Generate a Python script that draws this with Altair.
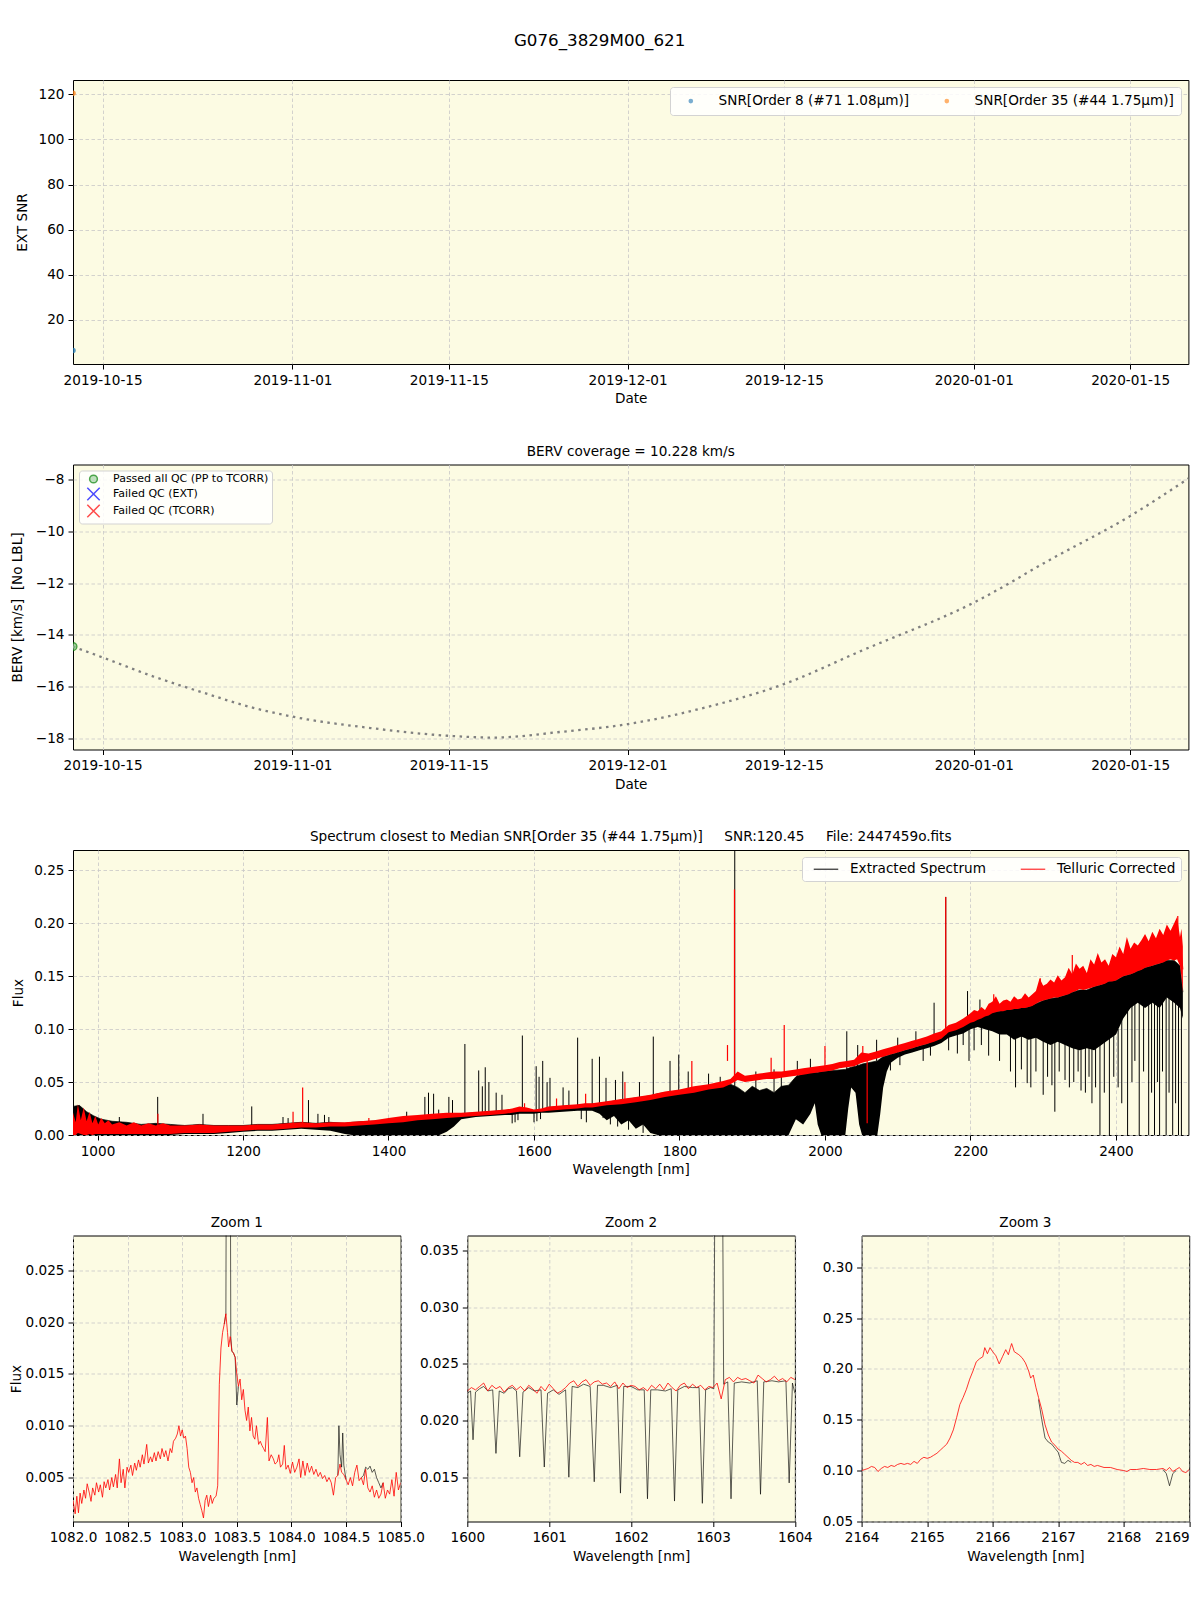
import altair as alt
import pandas as pd

FONT = "DejaVu Sans"
FS = 13.6
BG = "#fcfbe3"

# ---------------- Panel 1 : EXT SNR ----------------
snr_date = ["2019-10-12T08:24:00Z", "2019-10-12T08:24:00Z"]
snr_order = ["SNR[Order 8 (#71 1.08μm)]", "SNR[Order 35 (#44 1.75μm)]"]
snr_value = [6.5, 120.45]
snr_colors = ["#1f77b4", "#ff7f0e"]

# ---------------- Panel 2 : BERV ----------------
berv_curve_date = [
    "2019-10-12T08:24:00Z", "2019-10-15T00:00:00Z", "2019-10-19T12:00:00Z", "2019-10-24T00:00:00Z",
    "2019-10-28T10:00:00Z", "2019-11-01T00:00:00Z", "2019-11-08T00:00:00Z", "2019-11-15T00:00:00Z",
    "2019-11-19T00:00:00Z", "2019-11-25T00:00:00Z", "2019-12-01T00:00:00Z", "2019-12-08T00:00:00Z",
    "2019-12-15T00:00:00Z", "2019-12-22T00:00:00Z", "2020-01-01T00:00:00Z", "2020-01-08T00:00:00Z",
    "2020-01-15T00:00:00Z", "2020-01-20T05:00:00Z",
]
berv_curve_value = [-14.45, -14.87, -15.60, -16.23, -16.81, -17.16, -17.60, -17.90, -17.97, -17.75,
                    -17.45, -16.80, -15.90, -14.60, -12.75, -11.05, -9.40, -7.95]
berv_obs_date = ["2019-10-12T08:24:00Z"]
berv_obs_value = [-14.45]
berv_obs_qc = ["Passed all QC (PP to TCORR)"]
qc_labels = ["Passed all QC (PP to TCORR)", "Failed QC (EXT)", "Failed QC (TCORR)"]
qc_fill = ["#7fbf7f", "blue", "red"]
qc_stroke = ["green", "blue", "red"]
X_PATH = "M-1.6,-1.6L1.6,1.6M-1.6,1.6L1.6,-1.6"
qc_shapes = ["circle", X_PATH, X_PATH]

# ---------------- Panel 3 : full spectrum ----------------
# Telluric-corrected spectrum: lower / upper envelope of the noisy trace
red_wl = [966, 970, 973, 977, 981, 985, 989, 993, 997, 1001, 1005, 1010, 1015, 1020, 1030, 1040, 1050,
          1060, 1070, 1080, 1090, 1100, 1120, 1140, 1160, 1180, 1200, 1220, 1240, 1260, 1280, 1300, 1320,
          1340, 1360, 1380, 1400, 1420, 1440, 1460, 1480, 1500, 1520, 1540, 1560, 1570, 1580, 1590, 1600,
          1610, 1620, 1640, 1660, 1670, 1680, 1700, 1720, 1740, 1760, 1780, 1800, 1820, 1840, 1860, 1870,
          1880, 1890, 1900, 1910, 1920, 1930, 1940, 1950, 1960, 1970, 1980, 1990, 2000, 2010, 2020, 2030,
          2040, 2050, 2060, 2070, 2080, 2090, 2100, 2110, 2120, 2130, 2140, 2150, 2160, 2170, 2180, 2190,
          2200, 2205, 2210, 2215, 2220, 2225, 2230, 2235, 2240, 2245, 2250, 2255, 2260, 2265, 2270, 2275,
          2280, 2285, 2290, 2295, 2300, 2305, 2310, 2315, 2320, 2325, 2330, 2335, 2340, 2345, 2350, 2355,
          2360, 2365, 2370, 2375, 2380, 2385, 2390, 2395, 2400, 2405, 2410, 2415, 2420, 2425, 2430, 2435,
          2440, 2445, 2450, 2455, 2460, 2465, 2470, 2475, 2480, 2484, 2488, 2490, 2492]
red_lo = [0.000, 0.000, 0.002, 0.001, 0.000, 0.000, 0.001, 0.000, 0.001, 0.001, 0.001, 0.001, 0.001,
          0.001, 0.001, 0.001, 0.001, 0.001, 0.001, 0.001, 0.001, 0.001, 0.002, 0.002, 0.002, 0.003,
          0.004, 0.005, 0.005, 0.006, 0.007, 0.007, 0.008, 0.008, 0.009, 0.010, 0.011, 0.012, 0.014,
          0.015, 0.016, 0.017, 0.018, 0.019, 0.020, 0.021, 0.022, 0.022, 0.022, 0.022, 0.023, 0.024,
          0.025, 0.026, 0.026, 0.028, 0.029, 0.031, 0.033, 0.036, 0.038, 0.040, 0.043, 0.045, 0.048,
          0.052, 0.050, 0.051, 0.052, 0.053, 0.053, 0.054, 0.055, 0.056, 0.057, 0.058, 0.059, 0.060,
          0.061, 0.063, 0.064, 0.065, 0.068, 0.070, 0.072, 0.074, 0.076, 0.078, 0.080, 0.082, 0.084,
          0.086, 0.088, 0.091, 0.097, 0.099, 0.102,
          0.106, 0.107, 0.109, 0.110, 0.112, 0.113, 0.115, 0.116, 0.117, 0.117, 0.118, 0.118, 0.119,
          0.119, 0.120, 0.120, 0.121, 0.122, 0.124, 0.126, 0.127, 0.128, 0.129, 0.130, 0.130, 0.131,
          0.132, 0.133, 0.135, 0.136, 0.138, 0.137, 0.138, 0.139, 0.140, 0.141, 0.142, 0.143, 0.145,
          0.145, 0.146, 0.148, 0.150, 0.151, 0.152, 0.153, 0.155, 0.156, 0.158, 0.159, 0.160, 0.161,
          0.162, 0.163, 0.165, 0.166, 0.165, 0.166, 0.160, 0.150, 0.135]
red_hi = [0.022, 0.012, 0.029, 0.014, 0.026, 0.013, 0.022, 0.011, 0.018, 0.010, 0.016, 0.011, 0.014,
          0.010, 0.012, 0.009, 0.012, 0.009, 0.011, 0.009, 0.011, 0.009, 0.009, 0.010, 0.009, 0.009,
          0.009, 0.010, 0.010, 0.011, 0.012, 0.011, 0.012, 0.012, 0.013, 0.014, 0.016, 0.018, 0.019,
          0.020, 0.021, 0.021, 0.022, 0.023, 0.024, 0.025, 0.027, 0.026, 0.024, 0.025, 0.027, 0.028,
          0.029, 0.030, 0.030, 0.032, 0.034, 0.036, 0.038, 0.041, 0.043, 0.046, 0.048, 0.051, 0.053,
          0.060, 0.056, 0.057, 0.058, 0.059, 0.060, 0.060, 0.061, 0.062, 0.063, 0.064, 0.065, 0.066,
          0.067, 0.069, 0.070, 0.071, 0.078, 0.077, 0.079, 0.081, 0.083, 0.085, 0.087, 0.089, 0.091,
          0.093, 0.096, 0.098, 0.104, 0.106, 0.110,
          0.115, 0.118, 0.117, 0.121, 0.118, 0.124, 0.126, 0.131, 0.124, 0.127, 0.128, 0.126, 0.131,
          0.128, 0.129, 0.134, 0.130, 0.133, 0.136, 0.148, 0.141, 0.143, 0.147, 0.144, 0.151, 0.146,
          0.149, 0.158, 0.152, 0.162, 0.157, 0.160, 0.153, 0.166, 0.161, 0.172, 0.163, 0.166, 0.160,
          0.171, 0.168, 0.178, 0.171, 0.187, 0.176, 0.182, 0.179, 0.184, 0.190, 0.183, 0.192, 0.186,
          0.195, 0.189, 0.199, 0.193, 0.200, 0.206, 0.187, 0.195, 0.178]

# Extracted spectrum: lower / upper envelope of the dense trace
black_wl = ([966, 975, 985, 995, 1005, 1020, 1040, 1060, 1080, 1100]
            + [1120, 1140, 1160, 1180, 1200, 1220, 1240, 1260, 1280, 1300, 1320, 1340]
            + [1350, 1400, 1440, 1470, 1480, 1490, 1500, 1520, 1540, 1560, 1570, 1580, 1590, 1600,
               1610, 1620, 1640, 1660, 1670, 1680]
            + [1690, 1700, 1710, 1720, 1730, 1740, 1750, 1760, 1770, 1800, 1840, 1870, 1880, 1890,
               1900, 1910, 1920, 1930, 1940, 1950]
            + [1960, 1970, 1980, 1986, 1990, 1995, 2028, 2032, 2036, 2042, 2047, 2051, 2072, 2076,
               2080, 2085, 2090, 2100]
            + [2110, 2120, 2130, 2140, 2150, 2160, 2170, 2180, 2190, 2200, 2210, 2220, 2230, 2240,
               2250, 2260, 2270, 2280, 2290, 2300, 2310, 2320, 2330, 2340, 2350, 2360, 2370, 2380,
               2390, 2400, 2410, 2420, 2430, 2440, 2450, 2460, 2470, 2480, 2488, 2492])
black_lo = ([0.000, 0.000, 0.000, 0.000, 0.000, 0.000, 0.000, 0.000, 0.000, 0.000]
            + [0.001, 0.001, 0.001, 0.002, 0.003, 0.004, 0.004, 0.005, 0.006, 0.005, 0.004, 0.001]
            + [0.000, 0.000, 0.000, 0.000, 0.003, 0.008, 0.015, 0.017, 0.018, 0.019, 0.019, 0.020,
               0.020, 0.020, 0.021, 0.021, 0.022, 0.023, 0.023, 0.023]
            + [0.020, 0.014, 0.018, 0.010, 0.014, 0.006, 0.010, 0.002, 0.000, 0.000, 0.000, 0.000,
               0.000, 0.000, 0.000, 0.000, 0.000, 0.000, 0.000, 0.000]
            + [0.015, 0.010, 0.020, 0.030, 0.010, 0.000, 0.000, 0.025, 0.045, 0.040, 0.010, 0.000,
               0.000, 0.020, 0.045, 0.060, 0.068, 0.073]
            + [0.076, 0.078, 0.080, 0.082, 0.084, 0.087, 0.092, 0.094, 0.096, 0.100, 0.102, 0.100,
               0.098, 0.095, 0.095, 0.090, 0.093, 0.090, 0.092, 0.088, 0.085, 0.088, 0.085, 0.082,
               0.080, 0.082, 0.080, 0.085, 0.090, 0.095, 0.110, 0.120, 0.125, 0.120, 0.125, 0.120,
               0.130, 0.125, 0.120, 0.110])
black_hi = ([0.027, 0.028, 0.022, 0.018, 0.015, 0.013, 0.012, 0.010, 0.011, 0.010]
            + [0.009, 0.010, 0.009, 0.009, 0.009, 0.010, 0.010, 0.011, 0.012, 0.011, 0.012, 0.011]
            + [0.012, 0.014, 0.017, 0.018, 0.019, 0.019, 0.020, 0.021, 0.022, 0.023, 0.023, 0.025,
               0.025, 0.023, 0.024, 0.026, 0.027, 0.028, 0.029, 0.029]
            + [0.030, 0.031, 0.032, 0.033, 0.034, 0.035, 0.036, 0.037, 0.039, 0.042, 0.046, 0.048,
               0.045, 0.040, 0.046, 0.042, 0.044, 0.040, 0.046, 0.047]
            + [0.055, 0.058, 0.059, 0.059, 0.059, 0.060, 0.062, 0.063, 0.064, 0.065, 0.066, 0.067,
               0.070, 0.072, 0.074, 0.075, 0.076, 0.078]
            + [0.080, 0.082, 0.084, 0.086, 0.089, 0.092, 0.098, 0.101, 0.104, 0.108, 0.111, 0.114,
               0.116, 0.117, 0.118, 0.119, 0.120, 0.121, 0.124, 0.127, 0.129, 0.130, 0.132, 0.135,
               0.137, 0.137, 0.140, 0.142, 0.145, 0.146, 0.150, 0.152, 0.155, 0.158, 0.160, 0.162,
               0.165, 0.165, 0.160, 0.135])

# narrow features of the extracted spectrum (emission spikes and telluric absorption lines)
black_line_wl = [966.5, 1030, 1082.7, 1145, 1212, 1255, 1262, 1290, 1303, 1312, 1318, 1425, 1450, 1455,
                 1462, 1469, 1483, 1488, 1505, 1524, 1529, 1533, 1538, 1548, 1556, 1584, 1603, 1607,
                 1612, 1618, 1622, 1640, 1648, 1660, 1680, 1690, 1699, 1712, 1722, 1745, 1764, 1787,
                 1799, 1812, 1840, 1856, 1876, 1905, 1930, 1940, 1962, 1980, 2030, 2045, 2071, 2100,
                 2125, 2150, 2166, 2196, 2213,
                 1570, 1574, 1578, 1600, 1604, 1609, 1665, 1672, 1695, 1705, 1715, 1730, 1750, 2090,
                 2103, 2135, 2145, 2170, 2182, 2190,
                 2198, 2205, 2215, 2225, 2240, 2255, 2262, 2270, 2278, 2283, 2290, 2300, 2306, 2312,
                 2316, 2322, 2330, 2336, 2342, 2348, 2352, 2358, 2363, 2367, 2372, 2378, 2384, 2391,
                 2397, 2403, 2408, 2416, 2422, 2426, 2432, 2438, 2445, 2449, 2453, 2457, 2460, 2464,
                 2469, 2473, 2478, 2482, 2486, 2490]
black_line_lo = [0.0, 0.004, 0.004, 0.003, 0.005, 0.006, 0.006, 0.007, 0.007, 0.007, 0.007, 0.012, 0.014,
                 0.014, 0.015, 0.015, 0.016, 0.016, 0.018, 0.019, 0.019, 0.019, 0.020, 0.020, 0.021,
                 0.022, 0.022, 0.022, 0.023, 0.023, 0.024, 0.025, 0.025, 0.026, 0.027, 0.028, 0.029,
                 0.030, 0.031, 0.032, 0.034, 0.036, 0.038, 0.040, 0.043, 0.045, 0.0, 0.040, 0.040,
                 0.040, 0.050, 0.055, 0.060, 0.060, 0.070, 0.075, 0.080, 0.085, 0.090, 0.100, 0.105,
                 0.011, 0.012, 0.014, 0.012, 0.013, 0.015,
                 0.015, 0.012, 0.016, 0.010, 0.008, 0.005, 0.002, 0.061, 0.066, 0.070, 0.075, 0.080,
                 0.077, 0.085, 0.070, 0.080, 0.085, 0.075, 0.070, 0.060, 0.045, 0.062, 0.049, 0.045,
                 0.060, 0.038, 0.055, 0.047, 0.022, 0.060, 0.052, 0.045, 0.050, 0.060, 0.042, 0.040,
                 0.055, 0.030, 0.045, 0.000, 0.040, 0.000, 0.055, 0.045, 0.030, 0.000, 0.050, 0.070,
                 0.000, 0.060, 0.000, 0.040, 0.000, 0.050, 0.000, 0.060, 0.000, 0.040, 0.000, 0.030,
                 0.000, 0.000]
black_line_hi = [0.042, 0.017, 0.036, 0.020, 0.027, 0.017, 0.016, 0.033, 0.020, 0.019, 0.017, 0.022, 0.036,
                 0.040, 0.039, 0.024, 0.036, 0.033, 0.086, 0.061, 0.046, 0.064, 0.050, 0.040, 0.038,
                 0.094, 0.065, 0.055, 0.070, 0.050, 0.054, 0.045, 0.042, 0.092, 0.072, 0.074, 0.054,
                 0.052, 0.060, 0.050, 0.093, 0.070, 0.076, 0.060, 0.058, 0.055, 0.300, 0.060, 0.062,
                 0.058, 0.070, 0.072, 0.098, 0.085, 0.090, 0.092, 0.098, 0.125, 0.225, 0.136, 0.128,
                 0.021, 0.021, 0.021, 0.022, 0.022, 0.022,
                 0.027, 0.028, 0.030, 0.030, 0.031, 0.032, 0.034, 0.076, 0.078, 0.085, 0.087, 0.095,
                 0.097, 0.100, 0.102, 0.104, 0.105, 0.102, 0.100, 0.100, 0.095, 0.095, 0.095, 0.095,
                 0.095, 0.092, 0.090, 0.090, 0.090, 0.090, 0.088, 0.088, 0.085, 0.085, 0.085, 0.085,
                 0.085, 0.085, 0.085, 0.090, 0.090, 0.095, 0.095, 0.100, 0.110, 0.125, 0.125, 0.125,
                 0.125, 0.125, 0.125, 0.125, 0.125, 0.125, 0.125, 0.125, 0.130, 0.130, 0.130, 0.130,
                 0.125, 0.120]

red_line_wl = [1083, 1268.8, 1282, 1373, 1587, 1631, 1671, 1725, 1817, 1866, 1875.6, 1926, 1944, 2000,
               2052, 2058, 2166, 2232, 2296, 2340, 2485]
red_line_lo = [0.008, 0.008, 0.009, 0.011, 0.024, 0.025, 0.027, 0.031, 0.042, 0.070, 0.050, 0.056, 0.057,
               0.063, 0.070, 0.011, 0.095, 0.120, 0.132, 0.150, 0.180]
red_line_hi = [0.020, 0.022, 0.045, 0.016, 0.030, 0.0345, 0.039, 0.050, 0.070, 0.085, 0.232, 0.073, 0.104,
               0.084, 0.084, 0.070, 0.225, 0.133, 0.148, 0.170, 0.207]

series_names = ["Extracted Spectrum", "Telluric Corrected"]

# ---------------- Zoom 1 (He I 1083 nm) ----------------
z1_wl = [1082.000, 1082.020, 1082.035, 1082.050, 1082.065, 1082.080, 1082.100, 1082.115, 1082.130, 1082.150,
         1082.165, 1082.180, 1082.200, 1082.215, 1082.235, 1082.250, 1082.270, 1082.285, 1082.300, 1082.320,
         1082.335, 1082.355, 1082.370, 1082.390, 1082.405, 1082.425, 1082.440, 1082.460, 1082.475, 1082.495,
         1082.510, 1082.530, 1082.545, 1082.565, 1082.580, 1082.600, 1082.615, 1082.635, 1082.650, 1082.675,
         1082.690, 1082.710, 1082.725, 1082.745, 1082.760, 1082.780, 1082.800, 1082.815, 1082.835, 1082.850,
         1082.870, 1082.890, 1082.905, 1082.920, 1082.940, 1082.955, 1082.970, 1082.985, 1083.000, 1083.015,
         1083.030, 1083.045, 1083.060, 1083.075, 1083.090, 1083.105, 1083.120, 1083.135, 1083.150, 1083.165,
         1083.180, 1083.195, 1083.210, 1083.225, 1083.240, 1083.260, 1083.275, 1083.290, 1083.310, 1083.325,
         1083.340, 1083.355, 1083.370, 1083.385, 1083.400, 1083.415, 1083.425, 1083.440, 1083.455, 1083.470,
         1083.485, 1083.500, 1083.515, 1083.530, 1083.545, 1083.560, 1083.575, 1083.590, 1083.605, 1083.620,
         1083.635, 1083.650, 1083.665, 1083.680, 1083.700, 1083.715, 1083.730, 1083.745, 1083.760, 1083.780,
         1083.795, 1083.815, 1083.835, 1083.850, 1083.870, 1083.885, 1083.900, 1083.920, 1083.935, 1083.950,
         1083.970, 1083.990, 1084.010, 1084.030, 1084.050, 1084.070, 1084.085, 1084.105, 1084.125, 1084.145,
         1084.165, 1084.185, 1084.205, 1084.225, 1084.245, 1084.265, 1084.285, 1084.305, 1084.325, 1084.345,
         1084.365, 1084.385, 1084.405, 1084.425, 1084.445, 1084.460, 1084.480, 1084.500, 1084.520, 1084.540,
         1084.560, 1084.580, 1084.600, 1084.620, 1084.640, 1084.660, 1084.680, 1084.700, 1084.720, 1084.740,
         1084.760, 1084.780, 1084.800, 1084.820, 1084.840, 1084.860, 1084.880, 1084.900, 1084.920, 1084.940,
         1084.960, 1084.980, 1085.000]
z1_red = [0.0028, 0.0015, 0.0032, 0.0016, 0.0035, 0.0025, 0.0038, 0.0030, 0.0044, 0.0035,
          0.0027, 0.0040, 0.0033, 0.0045, 0.0036, 0.0043, 0.0031, 0.0046, 0.0040, 0.0048,
          0.0038, 0.0050, 0.0041, 0.0053, 0.0040, 0.0068, 0.0045, 0.0058, 0.0040, 0.0060,
          0.0055, 0.0062, 0.0052, 0.0064, 0.0057, 0.0067, 0.0060, 0.0072, 0.0063, 0.0082,
          0.0064, 0.0070, 0.0065, 0.0074, 0.0066, 0.0075, 0.0068, 0.0078, 0.0070, 0.0076,
          0.0066, 0.0078, 0.0074, 0.0085, 0.0088, 0.0092, 0.0100, 0.0090, 0.0096, 0.0088,
          0.0090, 0.0078, 0.0060, 0.0055, 0.0045, 0.0050, 0.0036, 0.0040, 0.0030, 0.0024,
          0.0018, 0.0011, 0.0028, 0.0033, 0.0022, 0.0033, 0.0025, 0.0030, 0.0032, 0.0042,
          0.0140, 0.0175, 0.0190, 0.0198, 0.0208, 0.0190, 0.0176, 0.0186, 0.0172, 0.0170,
          0.0166, 0.0150, 0.0138, 0.0145, 0.0125, 0.0135, 0.0115, 0.0105, 0.0118, 0.0095,
          0.0108, 0.0090, 0.0087, 0.0100, 0.0082, 0.0085, 0.0081, 0.0078, 0.0075, 0.0108,
          0.0066, 0.0072, 0.0068, 0.0063, 0.0065, 0.0072, 0.0060, 0.0063, 0.0081, 0.0058,
          0.0062, 0.0054, 0.0065, 0.0055, 0.0060, 0.0068, 0.0050, 0.0066, 0.0052, 0.0064,
          0.0055, 0.0061, 0.0053, 0.0058, 0.0051, 0.0055, 0.0049, 0.0052, 0.0046, 0.0050,
          0.0045, 0.0033, 0.0050, 0.0052, 0.0063, 0.0055, 0.0053, 0.0048, 0.0043, 0.0050,
          0.0042, 0.0055, 0.0062, 0.0047, 0.0050, 0.0043, 0.0058, 0.0040, 0.0036, 0.0042,
          0.0031, 0.0038, 0.0030, 0.0034, 0.0045, 0.0030, 0.0038, 0.0034, 0.0048, 0.0032,
          0.0055, 0.0038, 0.0045]
# visible parts of the extracted spectrum where it departs from the corrected one
z1_black_wl = [1083.385, 1083.400, 1083.405, 1083.440, 1083.445, 1083.455, 1083.470, 1083.485, 1083.500, 1083.515,
               1084.425, 1084.435, 1084.445, 1084.460, 1084.470, 1084.480, 1084.500,
               1084.640, 1084.660, 1084.680, 1084.700, 1084.720, 1084.740, 1084.760, 1084.780, 1084.800,
               1084.820, 1084.840]
z1_black = [0.0198, 0.0208, 0.0400, 0.0400, 0.0186, 0.0172, 0.0170, 0.0166, 0.0120, 0.0138,
            0.0052, 0.0100, 0.0072, 0.0060, 0.0093, 0.0062, 0.0048,
            0.0050, 0.0052, 0.0060, 0.0058, 0.0061, 0.0055, 0.0058, 0.0050, 0.0045, 0.0040, 0.0045]
z1_black_seg = [1] * 10 + [2] * 7 + [3] * 11

# ---------------- Zoom 2 (1600-1604 nm) ----------------
z2_red_wl = [1600.00, 1600.05, 1600.10, 1600.15, 1600.20, 1600.25, 1600.30, 1600.35, 1600.40, 1600.45,
             1600.50, 1600.55, 1600.60, 1600.65, 1600.70, 1600.75, 1600.80, 1600.85, 1600.90, 1600.95,
             1601.00, 1601.05, 1601.10, 1601.15, 1601.20, 1601.25, 1601.30, 1601.35, 1601.40, 1601.45,
             1601.50, 1601.55, 1601.60, 1601.65, 1601.70, 1601.75, 1601.80, 1601.85, 1601.90, 1601.95,
             1602.00, 1602.05, 1602.10, 1602.15, 1602.20, 1602.25, 1602.30, 1602.35, 1602.40, 1602.45,
             1602.50, 1602.55, 1602.60, 1602.65, 1602.70, 1602.75, 1602.80, 1602.85, 1602.90, 1602.95,
             1603.00, 1603.05, 1603.10, 1603.15, 1603.20, 1603.25, 1603.30, 1603.35, 1603.40, 1603.45,
             1603.50, 1603.55, 1603.60, 1603.65, 1603.70, 1603.75, 1603.80, 1603.85, 1603.90, 1603.95,
             1604.00]
z2_red = [0.0226, 0.0229, 0.0227, 0.0230, 0.0233, 0.0226, 0.0231, 0.0228, 0.0230, 0.0225,
          0.0229, 0.0231, 0.0227, 0.0230, 0.0226, 0.0231, 0.0228, 0.0224, 0.0230, 0.0226,
          0.0232, 0.0228, 0.0224, 0.0226, 0.0229, 0.0233, 0.0235, 0.0230, 0.0234, 0.0236,
          0.0231, 0.0234, 0.0235, 0.0232, 0.0233, 0.0230, 0.0234, 0.0228, 0.0233, 0.0229,
          0.0231, 0.0230, 0.0227, 0.0229, 0.0226, 0.0231, 0.0228, 0.0232, 0.0227, 0.0233,
          0.0229, 0.0226, 0.0231, 0.0233, 0.0228, 0.0232, 0.0229, 0.0231, 0.0227, 0.0230,
          0.0229, 0.0233, 0.0219, 0.0236, 0.0238, 0.0234, 0.0238, 0.0236, 0.0237, 0.0235,
          0.0233, 0.0240, 0.0237, 0.0234, 0.0236, 0.0239, 0.0235, 0.0237, 0.0234, 0.0238,
          0.0236]
z2_black_wl = [1600.00, 1600.04, 1600.07, 1600.10, 1600.15, 1600.20, 1600.25, 1600.31, 1600.35, 1600.39,
               1600.45, 1600.50, 1600.55, 1600.60, 1600.64, 1600.68, 1600.75, 1600.82, 1600.90, 1600.94,
               1600.98, 1601.05, 1601.12, 1601.20, 1601.24, 1601.28, 1601.35, 1601.42, 1601.50, 1601.55,
               1601.59, 1601.66, 1601.75, 1601.83, 1601.87, 1601.91, 1602.00, 1602.08, 1602.16, 1602.20,
               1602.24, 1602.32, 1602.42, 1602.49, 1602.53, 1602.57, 1602.65, 1602.75, 1602.83, 1602.87,
               1602.91, 1602.97, 1603.01, 1603.03, 1603.11, 1603.13, 1603.18, 1603.22, 1603.26, 1603.35,
               1603.45, 1603.54, 1603.58, 1603.62, 1603.72, 1603.80, 1603.89, 1603.93, 1603.97, 1604.00]
z2_black = [0.0224, 0.0226, 0.0183, 0.0225, 0.0228, 0.0230, 0.0226, 0.0227, 0.0171, 0.0226,
            0.0224, 0.0228, 0.0229, 0.0226, 0.0168, 0.0225, 0.0229, 0.0226, 0.0227, 0.0159,
            0.0224, 0.0227, 0.0223, 0.0227, 0.0150, 0.0230, 0.0229, 0.0232, 0.0230, 0.0146,
            0.0231, 0.0231, 0.0229, 0.0231, 0.0136, 0.0230, 0.0230, 0.0227, 0.0227, 0.0131,
            0.0227, 0.0227, 0.0226, 0.0228, 0.0129, 0.0227, 0.0230, 0.0229, 0.0229, 0.0127,
            0.0227, 0.0229, 0.0228, 0.0500, 0.0500, 0.0232, 0.0234, 0.0131, 0.0233, 0.0234,
            0.0233, 0.0235, 0.0135, 0.0234, 0.0235, 0.0234, 0.0235, 0.0145, 0.0233, 0.0224]

# ---------------- Zoom 3 (Br gamma) ----------------
z3_wl = [2164.00, 2164.05, 2164.10, 2164.15, 2164.20, 2164.25, 2164.30, 2164.35, 2164.40, 2164.45,
         2164.50, 2164.55, 2164.60, 2164.65, 2164.70, 2164.75, 2164.80, 2164.85, 2164.90, 2164.95,
         2165.00, 2165.05, 2165.10, 2165.15, 2165.20, 2165.25, 2165.30, 2165.35, 2165.40, 2165.45,
         2165.50, 2165.55, 2165.60, 2165.65, 2165.70, 2165.75, 2165.80, 2165.85, 2165.88, 2165.92,
         2165.96, 2166.00, 2166.05, 2166.10, 2166.15, 2166.20, 2166.24, 2166.27, 2166.29, 2166.33,
         2166.40, 2166.45, 2166.50, 2166.55, 2166.58, 2166.62, 2166.66, 2166.70, 2166.75, 2166.80,
         2166.85, 2166.90, 2166.95, 2167.00, 2167.05, 2167.10, 2167.15, 2167.20, 2167.25, 2167.30,
         2167.35, 2167.40, 2167.45, 2167.50, 2167.55, 2167.60, 2167.70, 2167.80, 2167.90, 2168.00,
         2168.05, 2168.10, 2168.20, 2168.30, 2168.40, 2168.50, 2168.60, 2168.65, 2168.70, 2168.75,
         2168.80, 2168.85, 2168.90, 2168.95, 2169.00]
z3_red = [0.100, 0.101, 0.102, 0.104, 0.103, 0.099, 0.102, 0.104, 0.103, 0.105,
          0.104, 0.106, 0.107, 0.106, 0.107, 0.106, 0.109, 0.107, 0.111, 0.113,
          0.112, 0.113, 0.115, 0.117, 0.120, 0.123, 0.126, 0.132, 0.140, 0.152,
          0.165, 0.172, 0.180, 0.190, 0.198, 0.207, 0.210, 0.212, 0.221, 0.215,
          0.221, 0.217, 0.213, 0.205, 0.212, 0.219, 0.214, 0.221, 0.225, 0.217,
          0.214, 0.211, 0.206, 0.198, 0.191, 0.194, 0.182, 0.172, 0.160, 0.145,
          0.135, 0.128, 0.125, 0.121, 0.119, 0.116, 0.113, 0.110, 0.108, 0.108,
          0.106, 0.108, 0.105, 0.106, 0.104, 0.105, 0.103, 0.103, 0.101, 0.100,
          0.099, 0.101, 0.101, 0.102, 0.101, 0.101, 0.102, 0.100, 0.103, 0.099,
          0.101, 0.103, 0.099, 0.098, 0.101]
z3_black_wl = [2166.70, 2166.75, 2166.80, 2166.85, 2166.90, 2166.95, 2167.00, 2167.05, 2167.10, 2167.15,
               2167.20, 2168.60, 2168.65, 2168.70, 2168.75, 2168.80]
z3_black = [0.170, 0.150, 0.132, 0.128, 0.126, 0.122, 0.118, 0.108, 0.107, 0.110,
            0.108, 0.101, 0.097, 0.085, 0.097, 0.100]
z3_black_seg = [1] * 11 + [2] * 5


# ================= build charts =================
def dt(y, m, d, h=0, mi=0):
    return alt.DateTime(year=y, month=m, date=d, hours=h, minutes=mi, utc=True)


date_scale = alt.Scale(type="utc", domain=[dt(2019, 10, 12, 8, 24), dt(2020, 1, 20, 5, 0)])
date_axis = alt.Axis(values=[dt(2019, 10, 15), dt(2019, 11, 1), dt(2019, 11, 15), dt(2019, 12, 1),
                             dt(2019, 12, 15), dt(2020, 1, 1), dt(2020, 1, 15)],
                     labelExpr="utcFormat(datum.value, '%Y-%m-%d')", title="Date")

W = 1115.4
ZW = 327.6

legend_box = dict(fillColor="rgba(255,255,255,0.85)", strokeColor="#d3d3d3", cornerRadius=3)

# Panel 1
snr_df = pd.DataFrame({"date": snr_date, "order": snr_order, "snr": snr_value})
p1 = alt.Chart(snr_df).mark_circle(size=30, opacity=0.75, clip=True).encode(
    x=alt.X("date:T", scale=date_scale, axis=date_axis),
    y=alt.Y("snr:Q", scale=alt.Scale(domain=[0.5, 126.3], nice=False, zero=False),
            axis=alt.Axis(values=[20, 40, 60, 80, 100, 120], title="EXT SNR", titlePadding=9)),
    color=alt.Color("order:N", scale=alt.Scale(domain=snr_order, range=snr_colors),
                    legend=alt.Legend(title=None, orient="top-right", direction="horizontal", columns=2,
                                      offset=7, padding=7, labelFontSize=FS, labelLimit=400,
                                      symbolType="circle", symbolSize=22, symbolOpacity=0.6,
                                      symbolOffset=7, labelOffset=21, columnPadding=23, **legend_box)),
).properties(width=W, height=284)

# Panel 2
curve_df = pd.DataFrame({"date": berv_curve_date, "berv": berv_curve_value})
obs_df = pd.DataFrame({"date": berv_obs_date, "berv": berv_obs_value, "qc": berv_obs_qc})
berv_y = alt.Y("berv:Q", scale=alt.Scale(domain=[-18.43, -7.41], nice=False, zero=False),
               axis=alt.Axis(values=[-18, -16, -14, -12, -10, -8], title="BERV [km/s]\u00a0\u00a0[No LBL]",
                             titlePadding=11))
curve = alt.Chart(curve_df).mark_line(color="#808080", strokeDash=[2.5, 4.5], strokeWidth=2.3,
                                      interpolate="monotone", clip=True).encode(
    x=alt.X("date:T", scale=date_scale, axis=date_axis), y=berv_y)
qc_leg = alt.Legend(title=None, orient="top-left", offset=6, padding=3, rowPadding=-2, labelFontSize=11,
                    labelLimit=400, symbolSize=60, symbolOffset=6, labelOffset=14, symbolStrokeWidth=1.5,
                    **legend_box)
obs = alt.Chart(obs_df).mark_point(size=60, filled=False, strokeWidth=1.4, clip=True).encode(
    x=alt.X("date:T", scale=date_scale, axis=date_axis), y=berv_y,
    fill=alt.Fill("qc:N", scale=alt.Scale(domain=qc_labels, range=qc_fill), legend=qc_leg),
    stroke=alt.Stroke("qc:N", scale=alt.Scale(domain=qc_labels, range=qc_stroke), legend=qc_leg),
    shape=alt.Shape("qc:N", scale=alt.Scale(domain=qc_labels, range=qc_shapes), legend=qc_leg),
)
p2 = alt.layer(curve, obs).properties(width=W, height=285, title="BERV coverage = 10.228 km/s")

# Panel 3
wl_axis = alt.Axis(values=[1000, 1200, 1400, 1600, 1800, 2000, 2200, 2400], format="d", title="Wavelength [nm]")
sx = alt.Scale(domain=[966.3, 2499.6], nice=False, zero=False)
sy = alt.Scale(domain=[0, 0.2693], nice=False, zero=False)
flux_axis = alt.Axis(values=[0, 0.05, 0.10, 0.15, 0.20, 0.25], format=".2f", title="Flux", titlePadding=8)

black_df = pd.DataFrame({"wl": black_wl, "lo": black_lo, "hi": black_hi, "series": series_names[0]})
red_df = pd.DataFrame({"wl": red_wl, "lo": red_lo, "hi": red_hi, "series": series_names[1]})
bl_df = pd.DataFrame({"wl": black_line_wl, "lo": black_line_lo, "hi": black_line_hi})
rl_df = pd.DataFrame({"wl": red_line_wl, "lo": red_line_lo, "hi": red_line_hi})

spec_color = alt.Color("series:N", scale=alt.Scale(domain=series_names, range=["black", "red"]),
                       legend=alt.Legend(title=None, orient="top-right", direction="horizontal", columns=2,
                                         offset=7, padding=5, labelFontSize=FS, labelLimit=400,
                                         symbolType="M-2,0L2,0", symbolSize=150, symbolStrokeWidth=1,
                                         symbolOffset=12, labelOffset=17, columnPadding=28, **legend_box))

b_area = alt.Chart(black_df).mark_area(color="black", clip=True, interpolate="linear").encode(
    x=alt.X("wl:Q", scale=sx, axis=wl_axis), y=alt.Y("lo:Q", scale=sy, axis=flux_axis), y2="hi:Q")
b_rules = alt.Chart(bl_df).mark_rule(color="black", strokeWidth=1, clip=True).encode(
    x=alt.X("wl:Q", scale=sx), y=alt.Y("lo:Q", scale=sy), y2="hi:Q")
b_line = alt.Chart(black_df).mark_line(strokeWidth=0.7, clip=True).encode(
    x=alt.X("wl:Q", scale=sx), y=alt.Y("hi:Q", scale=sy), color=spec_color)
r_area = alt.Chart(red_df).mark_area(color="red", clip=True).encode(
    x=alt.X("wl:Q", scale=sx), y=alt.Y("lo:Q", scale=sy), y2="hi:Q")
r_rules = alt.Chart(rl_df).mark_rule(color="red", strokeWidth=1.2, clip=True).encode(
    x=alt.X("wl:Q", scale=sx), y=alt.Y("lo:Q", scale=sy), y2="hi:Q")
r_line = alt.Chart(red_df).transform_calculate(mid="(datum.lo + datum.hi) / 2").mark_line(
    strokeWidth=1, clip=True).encode(
    x=alt.X("wl:Q", scale=sx), y=alt.Y("mid:Q", scale=sy), color=spec_color)

spec_title = ("Spectrum closest to Median SNR[Order 35 (#44 1.75μm)]" + "\u00a0" * 5 + "SNR:120.45"
              + "\u00a0" * 5 + "File: 2447459o.fits")
p3 = alt.layer(b_area, b_rules, b_line, r_area, r_rules, r_line).properties(
    width=W, height=285, title=spec_title)


# Zoom panels
def zoom_panel(title, red_x, red_y, blk_df, xdom, xvals, xfmt, ydom, yvals, yfmt, ytitle, last_right=False):
    zx = alt.Scale(domain=xdom, nice=False, zero=False)
    zy = alt.Scale(domain=ydom, nice=False, zero=False)
    if last_right:
        # the right-most label sits at the page edge: keep it inside the picture
        xa = alt.Axis(values=xvals, format=xfmt, title="Wavelength [nm]",
                      labelAlign={"condition": {"test": f"datum.value >= {xvals[-1]}", "value": "right"},
                                  "value": "center"})
    else:
        xa = alt.Axis(values=xvals, format=xfmt, title="Wavelength [nm]")
    if ytitle:
        ya = alt.Axis(values=yvals, format=yfmt, title=ytitle, titlePadding=2)
    else:
        ya = alt.Axis(values=yvals, format=yfmt, title=None)
    rdf = pd.DataFrame({"wl": red_x, "flux": red_y})
    blk = alt.Chart(blk_df).mark_line(color="black", strokeWidth=0.8, opacity=0.8, clip=True).encode(
        x=alt.X("wl:Q", scale=zx, axis=xa), y=alt.Y("flux:Q", scale=zy, axis=ya), detail="seg:N")
    red = alt.Chart(rdf).mark_line(color="red", strokeWidth=0.8, clip=True).encode(
        x=alt.X("wl:Q", scale=zx), y=alt.Y("flux:Q", scale=zy))
    return alt.layer(blk, red).properties(width=ZW, height=286, title=title)


z1 = zoom_panel("Zoom 1", z1_wl, z1_red,
                pd.DataFrame({"wl": z1_black_wl, "flux": z1_black, "seg": z1_black_seg}),
                [1082.0, 1085.0], [1082.0, 1082.5, 1083.0, 1083.5, 1084.0, 1084.5, 1085.0], ".1f",
                [0.00076, 0.02835], [0.005, 0.010, 0.015, 0.020, 0.025], ".3f", "Flux")
z2 = zoom_panel("Zoom 2", z2_red_wl, z2_red,
                pd.DataFrame({"wl": z2_black_wl, "flux": z2_black, "seg": 1}),
                [1600, 1604], [1600, 1601, 1602, 1603, 1604], "d",
                [0.0111, 0.0363], [0.015, 0.020, 0.025, 0.030, 0.035], ".3f", None)
z3 = zoom_panel("Zoom 3", z3_wl, z3_red,
                pd.DataFrame({"wl": z3_black_wl, "flux": z3_black, "seg": z3_black_seg}),
                [2164, 2169], [2164, 2165, 2166, 2167, 2168, 2169], "d",
                [0.0498, 0.3314], [0.05, 0.10, 0.15, 0.20, 0.25, 0.30], ".2f", None, last_right=True)

row4 = alt.hconcat(z1, z2, z3, spacing=66.3, bounds="flush")

chart = alt.vconcat(p1, p2, p3, row4, spacing=100.5, bounds="flush").properties(
    title=alt.TitleParams("G076_3829M00_621", fontSize=16.7, fontWeight="normal", anchor="middle",
                          offset=30, font=FONT, color="black"),
    padding={"left": 0, "top": 24, "right": 0, "bottom": 5},
).resolve_scale(color="independent", fill="independent", stroke="independent", shape="independent"
).resolve_legend(color="independent", fill="independent", stroke="independent", shape="independent"
).configure(font=FONT).configure_view(
    fill=BG, stroke="black", strokeWidth=1
).configure_axis(
    grid=True, gridColor="#c8c8c8", gridDash=[3.5, 2.5], gridWidth=0.8, domain=False,
    tickColor="black", tickSize=5, tickWidth=1, labelFontSize=FS, labelColor="black",
    labelFont=FONT, titleFont=FONT, titleFontSize=FS, titleFontWeight="normal", titleColor="black",
    labelPadding=4, titlePadding=5, labelFlush=False, labelOverlap=False
).configure_title(
    fontSize=FS, fontWeight="normal", font=FONT, offset=6, color="black", anchor="middle"
).configure_legend(labelFont=FONT, labelColor="black")

chart.save("out.html", embed_options={"renderer": "svg", "actions": False})
